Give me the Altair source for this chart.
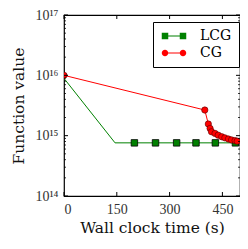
import altair as alt
import pandas as pd

# ---- data ----
series_names = ["LCG", "CG"]
series_colors = ["#008000", "#ff0000"]

lcg_time = [0, 145, 200, 260, 320, 375, 430, 487]
lcg_value = [8.9e15, 7.6e14, 7.6e14, 7.6e14, 7.6e14, 7.6e14, 7.6e14, 7.6e14]
lcg_marker = [False, False, True, True, True, True, True, True]

cg_time = [0, 400, 410, 415, 419, 429, 438, 448, 457, 467, 476, 486, 492]
cg_value = [1.0e16, 2.66e15, 1.56e15, 1.32e15, 1.16e15, 1.09e15, 1.02e15,
            9.6e14, 9.2e14, 8.8e14, 8.5e14, 8.3e14, 8.1e14]

x_ticks = [0, 150, 300, 450]
y_ticks = [1e14, 1e15, 1e16, 1e17]
y_tick_labels = ["10¹⁴", "10¹⁵", "10¹⁶", "10¹⁷"]
y_minor = [m * 10.0 ** e for e in (14, 15, 16) for m in range(2, 10)]

x_title = "Wall clock time (s)"
y_title = "Function value"

W, H = 176, 181
SERIF = "DejaVu Serif"
TICKFONT = "Liberation Serif"

lcg_df = pd.DataFrame({"t": lcg_time, "v": lcg_value, "m": lcg_marker})
cg_df = pd.DataFrame({"t": cg_time, "v": cg_value})

xs = alt.Scale(domain=[0, 500], nice=False, zero=False)
ys = alt.Scale(type="log", domain=[1e14, 1e17], nice=False)

label_expr = " : ".join(
    f"datum.value >= {v * 0.99} ? '{l}'" for v, l in zip(y_ticks[::-1][:-1], y_tick_labels[::-1][:-1])
) + f" : '{y_tick_labels[0]}'"

x_axis = alt.Axis(values=x_ticks, ticks=False, tickSize=0, domain=False, grid=False,
                  labelFont=TICKFONT, labelFontSize=14, labelColor="#333",
                  labelPadding=6, title=x_title, titleFont=SERIF, titleFontSize=15.5,
                  titleFontWeight="normal", titleColor="#111", titlePadding=4)
y_axis = alt.Axis(values=y_ticks, ticks=False, tickSize=0, domain=False, grid=False,
                  labelExpr=label_expr, labelFont=TICKFONT, labelFontSize=14,
                  labelColor="#333", labelPadding=6, title=y_title, titleFont=SERIF,
                  titleFontSize=15.5, titleFontWeight="normal", titleColor="#111",
                  titlePadding=8)


def X():
    return alt.X("t:Q", scale=xs, axis=x_axis, title=x_title)


def Y():
    return alt.Y("v:Q", scale=ys, axis=y_axis, title=y_title)


lcg_line = alt.Chart(lcg_df).mark_line(color=series_colors[0], strokeWidth=1, clip=True).encode(
    x=X(), y=Y())
cg_line = alt.Chart(cg_df).mark_line(color=series_colors[1], strokeWidth=1, clip=True).encode(
    x=X(), y=Y())
lcg_pts = alt.Chart(lcg_df).transform_filter("datum.m").mark_point(
    shape="square", filled=True, size=42, fill=series_colors[0], stroke="black",
    strokeWidth=0.8, opacity=1, clip=True).encode(x=X(), y=Y())
cg_pts = alt.Chart(cg_df).mark_point(
    shape="circle", filled=True, size=40, fill=series_colors[1], stroke="#550000",
    strokeWidth=0.6, opacity=1, clip=True).encode(x=X(), y=Y())

# inward ticks on all four sides
xt_df = pd.DataFrame({"t": x_ticks})
yt_df = pd.DataFrame({"v": y_ticks})
ym_df = pd.DataFrame({"v": y_minor})
tick_layers = [
    alt.Chart(xt_df).mark_rule(color="black", strokeWidth=1).encode(
        x=X(), y=alt.value(H), y2=alt.value(H - 4)),
    alt.Chart(xt_df).mark_rule(color="black", strokeWidth=1).encode(
        x=X(), y=alt.value(0), y2=alt.value(4)),
    alt.Chart(yt_df).mark_rule(color="black", strokeWidth=1).encode(
        y=Y(), x=alt.value(0), x2=alt.value(4)),
    alt.Chart(yt_df).mark_rule(color="black", strokeWidth=1).encode(
        y=Y(), x=alt.value(W), x2=alt.value(W - 4)),
    alt.Chart(ym_df).mark_rule(color="black", strokeWidth=0.8).encode(
        y=Y(), x=alt.value(0), x2=alt.value(2)),
    alt.Chart(ym_df).mark_rule(color="black", strokeWidth=0.8).encode(
        y=Y(), x=alt.value(W), x2=alt.value(W - 2)),
]

# legend: line with a marker at each end
legend_paths = [
    "M-1.8,-0.1H1.8V0.1H-1.8Z M-2.45,-0.65H-1.15V0.65H-2.45Z M1.15,-0.65H2.45V0.65H1.15Z",
    "M-1.8,-0.1H1.8V0.1H-1.8Z M-2.45,0A0.65,0.65,0,1,1,-1.15,0A0.65,0.65,0,1,1,-2.45,0Z "
    "M1.15,0A0.65,0.65,0,1,1,2.45,0A0.65,0.65,0,1,1,1.15,0Z",
]
leg = alt.Legend(orient="none", legendX=89, legendY=7, padding=7, strokeColor="black",
                 fillColor="white", symbolOffset=7, labelOffset=19, rowPadding=3,
                 labelFont=SERIF, labelFontSize=14, labelColor="black", symbolSize=100,
                 symbolStrokeWidth=0, symbolOpacity=1, title=None, cornerRadius=0)
legend_layer = alt.Chart(pd.DataFrame({"series": series_names})).mark_point(
    filled=True, opacity=0, size=100).encode(
    color=alt.Color("series:N", scale=alt.Scale(domain=series_names, range=series_colors), legend=leg),
    shape=alt.Shape("series:N", scale=alt.Scale(domain=series_names, range=legend_paths), legend=leg),
)

chart = alt.layer(lcg_line, cg_line, lcg_pts, cg_pts, *tick_layers, legend_layer).properties(
    width=W, height=H, autosize="none",
    padding={"left": 56, "top": 7, "right": 0, "bottom": 44},
).configure_view(stroke="black", strokeWidth=1.2).configure_legend(strokeWidth=1)

chart.save("out.html", embed_options={"renderer": "svg", "actions": False})
